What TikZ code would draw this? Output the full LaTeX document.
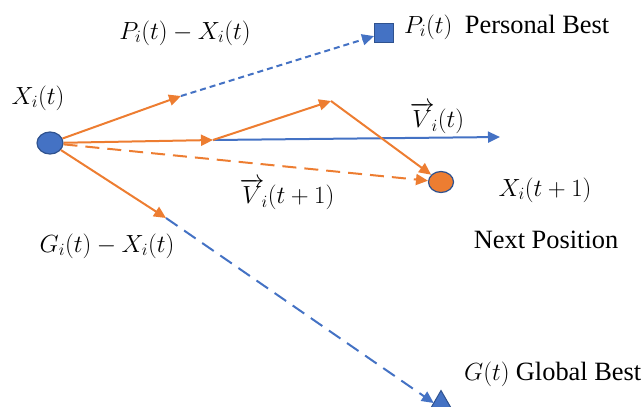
\documentclass[tikz,border=0pt]{standalone}
\usepackage{fontspec}
\setmainfont{Liberation Serif}
\usetikzlibrary{arrows.meta,shapes.geometric}
\definecolor{pblue}{HTML}{4472C4}
\definecolor{pborder}{HTML}{2F528F}
\definecolor{porange}{HTML}{ED7D31}
\newcommand{\mfs}{\fontsize{25}{28}\selectfont}
\newcommand{\tfs}{\fontsize{26.5}{30}\selectfont}
\begin{document}
\begin{tikzpicture}[x=1bp,y=-1bp,
  tip/.style={-{Triangle[length=12bp,width=11bp]}},
  ovec/.style={draw=porange,line width=2bp,tip},
  bvec/.style={draw=pblue,line width=2bp,tip},
  sdash/.style={dash pattern=on 6bp off 4bp},
  ldash/.style={dash pattern=on 14bp off 8bp},
  lbl/.style={font=\mfs,inner sep=0pt},
  pt/.style={ellipse,draw=pborder,line width=1.2bp,minimum width=26bp,minimum height=22bp,inner sep=0pt}]
\useasboundingbox (0,0) rectangle (644,406);
% points
\node[pt,fill=pblue] (xi) at (50,143) {};
\node[pt,fill=porange,minimum width=25bp,minimum height=21bp] (xn) at (441,182) {};
\node[rectangle,fill=pblue,draw=pborder,line width=1bp,minimum size=19bp,inner sep=0pt] (pb) at (384,33) {};
\node[regular polygon,regular polygon sides=3,fill=pblue,draw=pborder,line width=1bp,minimum size=35bp,inner sep=0pt,outer sep=0pt] (gb) at (441,408) {};
\coordinate (c1) at (181,96);
\coordinate (c2) at (213,140);
\coordinate (c3) at (331,101);
\coordinate (c4) at (166,218);
\coordinate (vend) at (500,137);
% connectors
\draw[bvec,sdash] (c1) -- (pb);
\draw[bvec,ldash] (c4) -- (gb);
\draw[bvec] (c2) -- (vend);
\draw[ovec] (xi) -- (c1);
\draw[ovec] (xi) -- (c2);
\draw[ovec] (c2) -- (c3);
\draw[ovec] (c3) -- (xn);
\draw[ovec,ldash] (xi) -- (xn);
\draw[ovec] (xi) -- (c4);
% labels
\node[lbl] (l1) at (185,33) {$P_i(t)-X_i(t)$};
\node[lbl] (l2) at (38,98) {$X_i(t)$};
\node[lbl,anchor=west] (l3) at (404,27) {$P_i(t)$\ \ {\tfs Personal Best}};
\node[lbl] (l4) at (437,118) {$\overrightarrow{V}_{\!i}(t)$};
\node[lbl] (l5) at (287,194) {$\overrightarrow{V}_{\!i}(t+1)$};
\node[lbl] (l6) at (545,190) {$X_i(t+1)$};
\node[lbl,font=\tfs] (l7) at (546,240) {Next Position};
\node[lbl] (l8) at (107,246) {$G_i(t)-X_i(t)$};
\node[lbl,anchor=west] (l9) at (464,374) {$G(t)$ {\tfs Global Best}};
\end{tikzpicture}
\end{document}
